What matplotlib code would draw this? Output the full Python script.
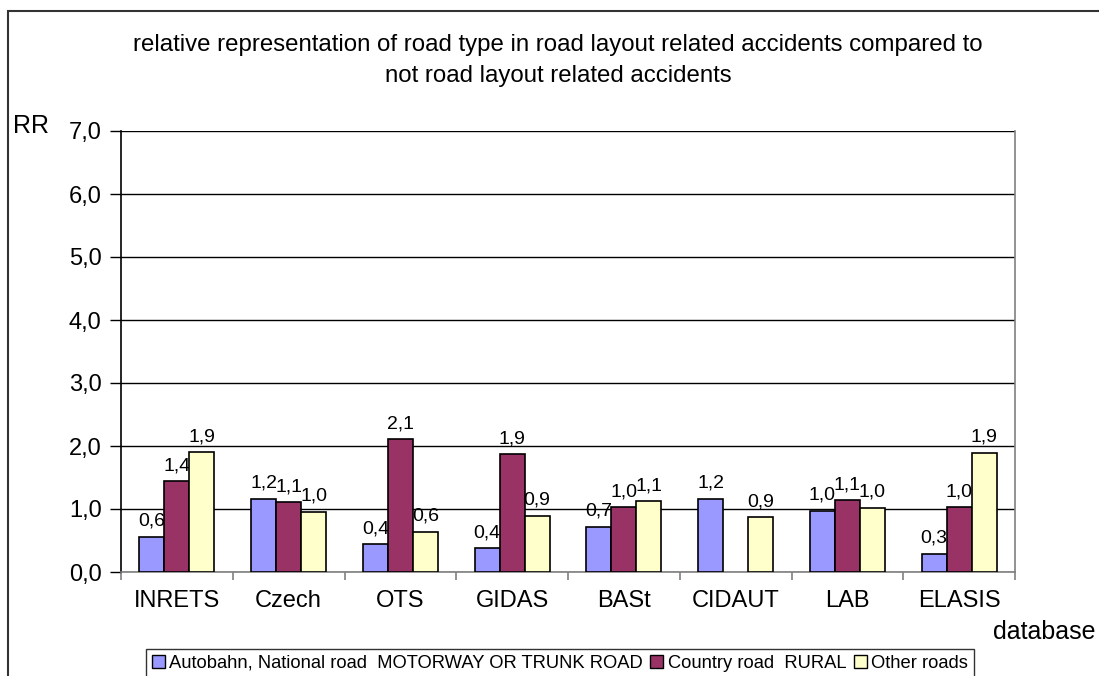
import numpy as np
import matplotlib
matplotlib.use("Agg")
import matplotlib.pyplot as plt
from matplotlib.patches import Rectangle
from matplotlib.ticker import FuncFormatter, FixedLocator

plt.rcParams['font.family'] = ['Liberation Sans', 'DejaVu Sans']

# relative representation (RR) per database and road type
databases = ['INRETS', 'Czech', 'OTS', 'GIDAS', 'BASt', 'CIDAUT', 'LAB', 'ELASIS']
series_names = ['Autobahn, National road  MOTORWAY OR TRUNK ROAD',
                'Country road  RURAL',
                'Other roads']
rr_motorway = [0.56, 1.16, 0.44, 0.38, 0.72, 1.16, 0.97, 0.29]
rr_rural = [1.44, 1.11, 2.11, 1.87, 1.03, np.nan, 1.14, 1.03]
rr_other = [1.90, 0.96, 0.64, 0.89, 1.12, 0.87, 1.02, 1.89]
colors = ['#9999FF', '#993366', '#FFFFCC']

fig = plt.figure(figsize=(10.99, 6.76), dpi=100)
ax = fig.add_axes([121 / 1099, 1 - 572 / 676, (1015 - 121) / 1099, (572 - 131) / 676])

# outer chart frame
fig.patches.append(Rectangle((8 / 1099, -0.1), 1.2, 1.1 - 11 / 676,
                             transform=fig.transFigure, fill=False,
                             edgecolor='#333333', linewidth=1.5))

x = np.arange(len(databases))
w = 0.223
for i, (vals, c, name) in enumerate(zip([rr_motorway, rr_rural, rr_other], colors, series_names)):
    ax.bar(x + (i - 1) * w, vals, w, color=c, edgecolor='black', linewidth=1.2,
           label=name, zorder=3)
    for xi, v in zip(x + (i - 1) * w, vals):
        if np.isnan(v):
            continue
        ax.annotate(f'{v:.1f}'.replace('.', ','), (xi, v), xytext=(0, 5),
                    textcoords='offset points', ha='center', va='bottom',
                    fontsize=14)

ax.set_xlim(-0.5, len(databases) - 0.5)
ax.set_ylim(0, 7)
ax.set_yticks(np.arange(0, 8, 1))
ax.yaxis.set_major_formatter(FuncFormatter(lambda v, p: f'{v:.1f}'.replace('.', ',')))
ax.yaxis.grid(True, color='black', linewidth=1, zorder=0)
ax.set_xticks(x)
ax.set_xticklabels(databases, fontsize=17)
ax.xaxis.set_minor_locator(FixedLocator(np.arange(-0.5, len(databases), 1)))
ax.tick_params(axis='x', which='major', length=0, pad=13)
ax.tick_params(axis='x', which='minor', length=6, color='#808080', width=1.2)
ax.tick_params(axis='y', length=8, width=1, labelsize=17, pad=6)

ax.spines['top'].set_visible(False)
ax.spines['left'].set_color('black')
ax.spines['bottom'].set_color('#808080')
ax.spines['right'].set_color('#808080')
for s in ['left', 'bottom', 'right']:
    ax.spines[s].set_linewidth(1.2)

fig.text(558 / 1099, 1 - 45 / 676,
         'relative representation of road type in road layout related accidents compared to',
         ha='center', va='center', fontsize=17.3)
fig.text(558 / 1099, 1 - 76 / 676, 'not road layout related accidents',
         ha='center', va='center', fontsize=17.3)
fig.text(13 / 1099, 1 - 126 / 676, 'RR', ha='left', va='center', fontsize=18)
fig.text(1096 / 1099, 1 - 632 / 676, 'database', ha='right', va='center', fontsize=18)

leg = fig.legend(loc='upper center', bbox_to_anchor=(560 / 1099, 1 - 649 / 676),
                 ncol=3, fontsize=13.2, frameon=True, fancybox=False,
                 handlelength=0.7, handleheight=0.7, handletextpad=0.25,
                 columnspacing=0.4, borderpad=0.3, borderaxespad=0)
leg.get_frame().set_edgecolor('black')
leg.get_frame().set_linewidth(1)
for h in leg.legend_handles:
    h.set_linewidth(1)

fig.savefig('out.png', dpi=100)
